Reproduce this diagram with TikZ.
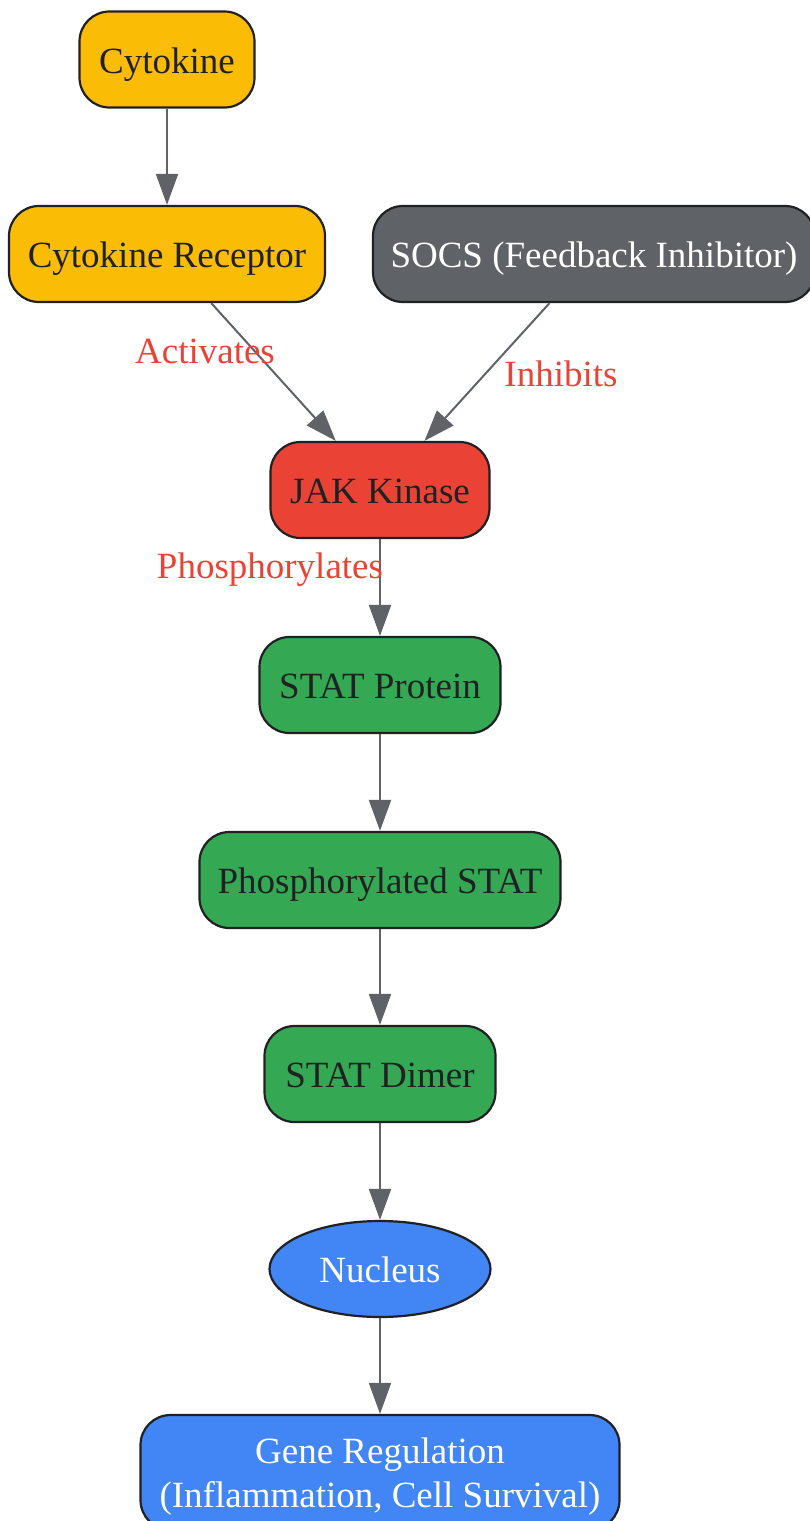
\documentclass[tikz,border=0pt]{standalone}
\usepackage{fontspec}
\setmainfont{Liberation Serif}
\usetikzlibrary{arrows.meta,shapes.geometric}
\definecolor{gyellow}{HTML}{FBBC05}
\definecolor{ggray}{HTML}{5F6368}
\definecolor{gred}{HTML}{EA4335}
\definecolor{ggreen}{HTML}{34A853}
\definecolor{gblue}{HTML}{4285F4}
\definecolor{gdark}{HTML}{202124}
\tikzset{
  box/.style={draw=gdark, line width=2.2pt, rounded corners=30pt, minimum height=96pt, inner sep=0pt, align=center, font=\fontsize{37}{44}\selectfont, text height=30pt, text depth=3pt},
  darktext/.style={text=gdark},
  lighttext/.style={text=white},
  edge/.style={draw=ggray, line width=2pt, -{Triangle[length=31pt,width=22pt]}},
  elabel/.style={text=gred, font=\fontsize{37}{44}\selectfont, inner sep=0pt}
}
\begin{document}
\begin{tikzpicture}[x=1pt,y=-1pt]
\useasboundingbox (0,0) rectangle (809,1521);
\node[box, darktext, fill=gyellow, minimum width=175pt] (cyt) at (167,59.5) {Cytokine};
\node[box, darktext, fill=gyellow, minimum width=316pt] (rec) at (167,254) {Cytokine Receptor};
\node[box, lighttext, fill=ggray, minimum width=442pt] (socs) at (594,254) {SOCS (Feedback Inhibitor)};
\node[box, darktext, fill=gred, minimum width=219pt] (jak) at (380,490) {JAK Kinase};
\node[box, darktext, fill=ggreen, minimum width=241pt] (stat) at (380,685) {STAT Protein};
\node[box, darktext, fill=ggreen, minimum width=361pt] (pstat) at (380,880) {Phosphorylated STAT};
\node[box, darktext, fill=ggreen, minimum width=231pt] (dimer) at (380,1074) {STAT Dimer};
\node[ellipse, draw=gdark, line width=2.2pt, fill=gblue, text=white, minimum width=221pt, minimum height=96pt, inner sep=0pt, font=\fontsize{37}{44}\selectfont, text height=30pt, text depth=3pt] (nuc) at (380,1269) {Nucleus};
\node[box, lighttext, fill=gblue, minimum width=479pt, minimum height=115pt, text height=, text depth=0pt] (gene) at (380,1472.5) {Gene Regulation\\(Inflammation, Cell Survival)};
\draw[edge] (cyt) -- (rec);
\draw[edge] (rec) -- (jak);
\draw[edge] (socs) -- (jak);
\draw[edge] (jak) -- (stat);
\draw[edge] (stat) -- (pstat);
\draw[edge] (pstat) -- (dimer);
\draw[edge] (dimer) -- (nuc);
\draw[edge] (nuc) -- (gene);
\node[elabel] (lact) at (205,351) {Activates};
\node[elabel] (linh) at (561,374) {Inhibits};
\node[elabel] (lpho) at (270,570) {Phosphorylates};
\end{tikzpicture}
\end{document}
